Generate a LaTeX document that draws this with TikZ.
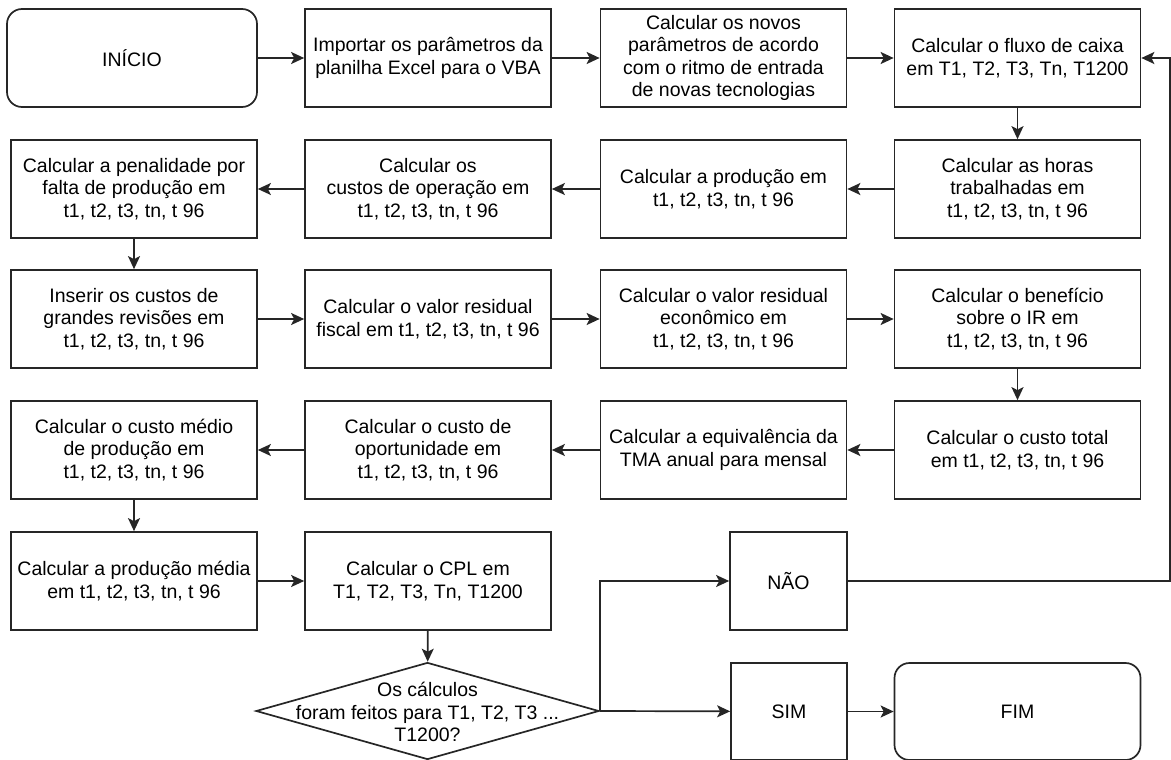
\documentclass[tikz,border=0pt]{standalone}
\usepackage{fontspec}
\setmainfont{Liberation Sans}
\usetikzlibrary{shapes.geometric,arrows.meta}

\begin{document}
\begin{tikzpicture}[x=1pt, y=-1pt,
		every node/.style={font=\fontsize{19.5}{22.5}\selectfont},
		box/.style={draw=black!85, line width=1.7pt, minimum width=246pt, minimum height=98pt, align=center, inner sep=2pt},
		term/.style={box, rounded corners=15pt},
		decision/.style={draw=black!85, line width=1.7pt, diamond, minimum width=343pt, minimum height=97pt, inner sep=0pt},
		arr/.style={draw=black!85, line width=1.7pt, -{Stealth[length=13pt, width=12pt, inset=3pt]}}]
		\useasboundingbox (0, 0) rectangle (1171, 760);
		\node [term, minimum width=250pt] (ini) at (132, 58) {INÍCIO};
		\node [box] (imp) at (428, 58) {Importar os parâmetros da\\planilha Excel para o VBA};
		\node [box] (nov) at (723.5, 58) {Calcular os novos\\parâmetros de acordo\\com o ritmo de entrada\\de novas tecnologias};
		\node [box] (flu) at (1017.5, 58) {Calcular o fluxo de caixa\\em T1, T2, T3, Tn, T1200};
		\node [box] (pen) at (134, 189) {Calcular a penalidade por\\falta de produção em\\t1, t2, t3, tn, t 96};
		\node [box] (cus) at (428, 189) {Calcular os\\custos de operação em\\t1, t2, t3, tn, t 96};
		\node [box] (prod) at (723.5, 189) {Calcular a produção em\\t1, t2, t3, tn, t 96};
		\node [box] (hor) at (1017.5, 189) {Calcular as horas\\trabalhadas em\\t1, t2, t3, tn, t 96};
		\node [box] (ins) at (134, 319) {Inserir os custos de\\grandes revisões em\\t1, t2, t3, tn, t 96};
		\node [box] (fis) at (428, 319) {Calcular o valor residual\\fiscal em t1, t2, t3, tn, t 96};
		\node [box] (eco) at (723.5, 319) {Calcular o valor residual\\econômico em\\t1, t2, t3, tn, t 96};
		\node [box] (ben) at (1017.5, 319) {Calcular o benefício\\sobre o IR em\\t1, t2, t3, tn, t 96};
		\node [box] (med) at (134, 450) {Calcular o custo médio\\de produção em\\t1, t2, t3, tn, t 96};
		\node [box] (opo) at (428, 450) {Calcular o custo de\\oportunidade em\\t1, t2, t3, tn, t 96};
		\node [box] (tma) at (723.5, 450) {Calcular a equivalência da\\TMA anual para mensal};
		\node [box] (tot) at (1017.5, 450) {Calcular o custo total\\em t1, t2, t3, tn, t 96};
		\node [box] (pmed) at (134, 581) {Calcular a produção média\\em t1, t2, t3, tn, t 96};
		\node [box] (cpl) at (428, 581) {Calcular o CPL em\\T1, T2, T3, Tn, T1200};
		\node [box, minimum width=117pt] (nao) at (788.5, 581) {NÃO};
		\node [decision] (dec) at (427.5, 711) {};
		\node [align=center] (dectxt) at (427.5, 712) {Os cálculos\\foram feitos para T1, T2, T3 ...\\T1200?};
		\node [box, minimum width=116pt, minimum height=97pt] (sim) at (789, 711.5) {SIM};
		\node [term, minimum height=97pt] (fim) at (1017.5, 711.5) {FIM};
		\coordinate (volta) at (1170, 581);
		\draw [arr] (ini) -- (imp);
		\draw [arr] (imp) -- (nov);
		\draw [arr] (nov) -- (flu);
		\draw [arr] (flu) -- (hor);
		\draw [arr] (hor) -- (prod);
		\draw [arr] (prod) -- (cus);
		\draw [arr] (cus) -- (pen);
		\draw [arr] (pen) -- (ins);
		\draw [arr] (ins) -- (fis);
		\draw [arr] (fis) -- (eco);
		\draw [arr] (eco) -- (ben);
		\draw [arr] (ben) -- (tot);
		\draw [arr] (tot) -- (tma);
		\draw [arr] (tma) -- (opo);
		\draw [arr] (opo) -- (med);
		\draw [arr] (med) -- (pmed);
		\draw [arr] (pmed) -- (cpl);
		\draw [arr] (cpl) -- (dec);
		\draw [arr] (dec.east) -- (sim);
		\draw [arr] (dec.east) |- (nao);
		\draw [arr] (sim) -- (fim);
		\draw [arr] (nao) -- (volta) |- (flu);
	\end{tikzpicture}
\end{document}
